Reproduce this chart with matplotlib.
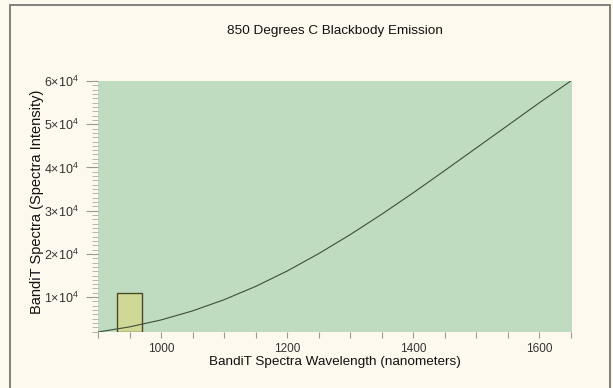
import matplotlib
matplotlib.use('Agg')
import matplotlib.pyplot as plt
from matplotlib.patches import Rectangle
from matplotlib.ticker import MultipleLocator, FuncFormatter

plt.rcParams['font.family'] = 'Liberation Sans'
plt.rcParams['mathtext.fontset'] = 'custom'
plt.rcParams['mathtext.rm'] = 'Liberation Sans'
plt.rcParams['mathtext.it'] = 'Liberation Sans'

# blackbody curve (nm, intensity)
wavelength = [900, 950, 1000, 1050, 1100, 1150, 1200, 1250, 1300,
              1350, 1400, 1450, 1500, 1550, 1600, 1650]
intensity = [1930, 3110, 4720, 6810, 9400, 12470, 16030, 20050, 24450,
             29160, 34120, 39270, 44490, 49710, 54940, 60000]

# highlighted band
band_start = 930
band_end = 970
band_top = 11000

y_ticks = [10000, 20000, 30000, 40000, 50000, 60000]
x_ticks = [1000, 1200, 1400, 1600]

fig = plt.figure(figsize=(6.13, 3.88), dpi=100)
fig.patch.set_facecolor('#fdf9ee')
ax = fig.add_axes([98/613, 56/388, 474/613, 251/388])
ax.set_facecolor('#c0dcc0')

ax.add_patch(Rectangle((band_start, intensity[0]), band_end - band_start,
                       band_top - intensity[0], facecolor='#d0d896',
                       edgecolor='#4a4a2a', lw=1.0, zorder=2))
ax.plot(wavelength, intensity, color='#3d4d3d', lw=0.8, zorder=3)

ax.set_xlim(900, 1652)
ax.set_ylim(intensity[0], 60000)

for s in ax.spines.values():
    s.set_visible(False)

ax.set_xticks(x_ticks)
ax.xaxis.set_minor_locator(MultipleLocator(50))
ax.set_yticks(y_ticks)
ax.yaxis.set_minor_locator(MultipleLocator(1000))
ax.yaxis.set_major_formatter(FuncFormatter(
    lambda v, p: r'$%d{\times}10^{4}$' % round(v / 10000)))

ax.tick_params(axis='x', which='both', length=4, width=0.8, color='#999999',
               labelsize=8.5, labelcolor='#333333', pad=4)
ax.tick_params(axis='y', which='major', length=9, width=0.8, color='#999999',
               labelsize=9, labelcolor='#333333', pad=5)
ax.tick_params(axis='y', which='minor', length=4, width=0.6, color='#aaaaaa')

ax.set_xlabel('BandiT Spectra Wavelength (nanometers)', fontsize=9.7,
              color='#111111', labelpad=1)
ax.set_ylabel('BandiT Spectra (Spectra Intensity)', fontsize=10.5,
              color='#111111')
ax.yaxis.set_label_coords(-(98 - 44) / 474, 0.518)
ax.set_title('850 Degrees C Blackbody Emission', fontsize=9.7,
             color='#111111', pad=34)

fig.patches.append(Rectangle((10/613, -0.02), 600/613, 1 - 5/388 + 0.02,
                             transform=fig.transFigure, fill=False,
                             edgecolor='#777777', lw=1.3))

fig.savefig('out.png', dpi=100, facecolor=fig.get_facecolor())
